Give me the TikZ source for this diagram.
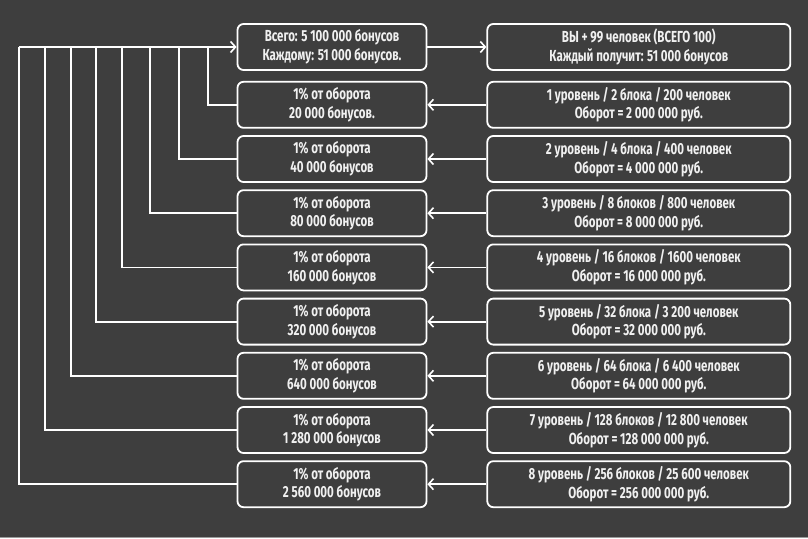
\documentclass[tikz,border=0pt]{standalone}
\usepackage{fontspec}
\setmainfont{Fira Sans}[FakeStretch=0.72]
\usepackage{tikz}
\usetikzlibrary{arrows.meta,positioning}
\definecolor{bgdark}{HTML}{3E3E3E}
\definecolor{stripgray}{HTML}{9A9A9A}

\begin{document}
\begin{tikzpicture}[
    x=1pt, y=-1pt,
    font=\fontsize{16}{18.6}\selectfont\bfseries, text=white!94!black,
    >={Straight Barb[length=5pt,width=11pt,line width=1.6pt]},
    lnk/.style={draw=white, line width=1.8pt},
    box/.style={draw=white, line width=1.8pt, rounded corners=6pt, align=center,
                minimum height=46pt, inner sep=2pt},
    bonus/.style={box, minimum width=189pt},
    level/.style={box, minimum width=303pt},
]
\useasboundingbox (0,0) rectangle (808,538);
\fill[bgdark] (0,0) rectangle (808,538);
\fill[stripgray] (0,537) rectangle (808,538);

% bonus column
\node[bonus] (l0) at (332,47) {Всего: 5 100 000 бонусов\\Каждому: 51 000 бонусов.};
\node[bonus] (l1) [below=10pt of l0] {1\% от оборота\\20 000 бонусов.};
\node[bonus] (l2) [below=6.4pt of l1] {1\% от оборота\\40 000 бонусов};
\node[bonus] (l3) [below=6.4pt of l2] {1\% от оборота\\80 000 бонусов};
\node[bonus] (l4) [below=6.4pt of l3] {1\% от оборота\\160 000 бонусов};
\node[bonus] (l5) [below=6.4pt of l4] {1\% от оборота\\320 000 бонусов};
\node[bonus] (l6) [below=6.4pt of l5] {1\% от оборота\\640 000 бонусов};
\node[bonus] (l7) [below=6.4pt of l6] {1\% от оборота\\1 280 000 бонусов};
\node[bonus] (l8) [below=6.4pt of l7] {1\% от оборота\\2 560 000 бонусов};

% level column
\node[level] (r0) [right=59pt of l0] {ВЫ + 99 человек (ВСЕГО 100)\\Каждый получит: 51 000 бонусов};
\node[level] (r1) [right=59pt of l1] {1 уровень / 2 блока / 200 человек\\Оборот = 2 000 000 руб.};
\node[level] (r2) [right=59pt of l2] {2 уровень / 4 блока / 400 человек\\Оборот = 4 000 000 руб.};
\node[level] (r3) [right=59pt of l3] {3 уровень / 8 блоков / 800 человек\\Оборот = 8 000 000 руб.};
\node[level] (r4) [right=59pt of l4] {4 уровень / 16 блоков / 1600 человек\\Оборот = 16 000 000 руб.};
\node[level] (r5) [right=59pt of l5] {5 уровень / 32 блока / 3 200 человек\\Оборот = 32 000 000 руб.};
\node[level] (r6) [right=59pt of l6] {6 уровень / 64 блока / 6 400 человек\\Оборот = 64 000 000 руб.};
\node[level] (r7) [right=59pt of l7] {7 уровень / 128 блоков / 12 800 человек\\Оборот = 128 000 000 руб.};
\node[level] (r8) [right=59pt of l8] {8 уровень / 256 блоков / 25 600 человек\\Оборот = 256 000 000 руб.};

% turnover -> bonus
\draw[lnk,->] (l0) -- (r0);
\foreach \i in {1,...,8}
  \draw[lnk,->] (r\i) -- (l\i);

% bonuses collected back to the top
\foreach \i/\x in {1/208,2/179,3/150,4/122,5/96,6/71,7/45,8/19} {
  \coordinate (b\i) at (\x,47);
  \draw[lnk] (l\i.west) -| (b\i);
}
\draw[lnk,->] (b8) -- (l0);
\end{tikzpicture}
\end{document}
